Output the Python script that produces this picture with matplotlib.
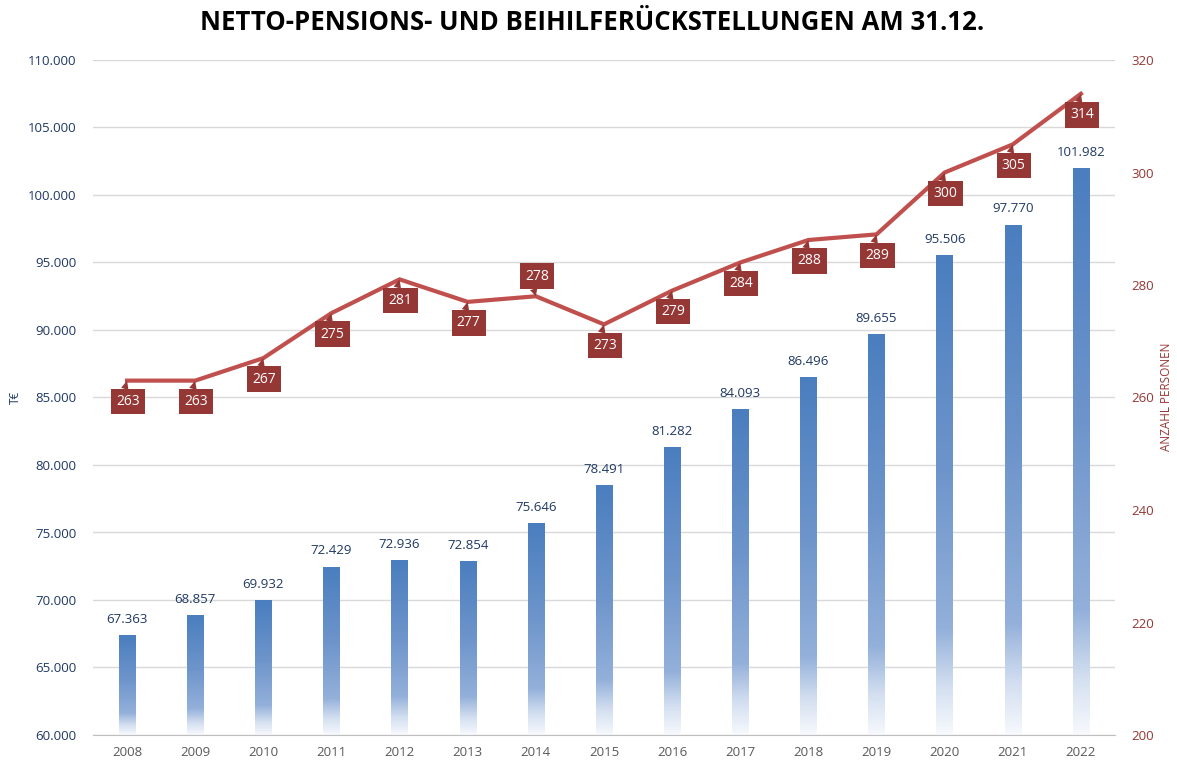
import matplotlib
matplotlib.use("Agg")
import matplotlib.pyplot as plt
import numpy as np
from matplotlib.colors import LinearSegmentedColormap

years = ["2008", "2009", "2010", "2011", "2012", "2013", "2014", "2015",
         "2016", "2017", "2018", "2019", "2020", "2021", "2022"]
provisions = [67363, 68857, 69932, 72429, 72936, 72854, 75646, 78491,
              81282, 84093, 86496, 89655, 95506, 97770, 101982]
persons = [263, 263, 267, 275, 281, 277, 278, 273, 279, 284, 288, 289, 300, 305, 314]
left_ticks = [60000, 65000, 70000, 75000, 80000, 85000, 90000, 95000, 100000, 105000, 110000]
right_ticks = [200, 220, 240, 260, 280, 300, 320]
labels_above = {"2014"}

NAVY = "#1F3864"
RED_LINE = "#C0504D"
RED_BOX = "#953735"
FONT = ["Open Sans", "DejaVu Sans"]
plt.rcParams["font.family"] = FONT

def fmt(v):
    return f"{v:,}".replace(",", ".")

fig = plt.figure(figsize=(11.77, 7.63), dpi=100)
ax = fig.add_axes([93/1177, 1-735/763, (1115-93)/1177, (735-60)/763])
ax2 = ax.twinx()

ax.set_xlim(-0.5, len(years)-0.5)
ax.set_ylim(60000, 110000)
ax2.set_ylim(200, 320)

cmap = LinearSegmentedColormap.from_list(
    "bar", [(0.0, "#F7F9FD"), (0.10, "#D3DFF0"), (0.22, "#93B0DA"),
            (0.55, "#6E95CB"), (1.0, "#4A7EBF")])
grad = np.linspace(0, 1, 256).reshape(-1, 1)
bw = 0.24
x = np.arange(len(years))
for xi, v in zip(x, provisions):
    ax.imshow(grad, extent=[xi-bw/2, xi+bw/2, 60000, v], origin="lower",
              aspect="auto", cmap=cmap, zorder=2, interpolation="bilinear")
    ax.annotate(fmt(v), (xi, v), xytext=(0, 7), textcoords="offset points",
                ha="center", va="bottom", fontsize=9.5, color=NAVY, zorder=5)

ax.set_yticks(left_ticks)
ax.set_yticklabels([fmt(t) for t in left_ticks])
ax.grid(axis="y", color="#D9D9D9", linewidth=1, zorder=0)
ax.set_axisbelow(True)
for s in ["top", "right", "left"]:
    ax.spines[s].set_visible(False)
ax.spines["bottom"].set_color("#BFBFBF")
for s in ax2.spines.values():
    s.set_visible(False)
ax.tick_params(axis="y", length=0, labelsize=9.5, labelcolor=NAVY, pad=12)
ax.set_xticks(x)
ax.set_xticklabels(years)
ax.tick_params(axis="x", length=0, labelsize=9.5, labelcolor="#595959", pad=8)
ax2.set_yticks(right_ticks)
ax2.tick_params(axis="y", length=0, labelsize=9.5, labelcolor=RED_BOX, pad=12)

ax2.plot(x, persons, color=RED_LINE, linewidth=3, solid_joinstyle="miter", zorder=3)
for xi, p, yr in zip(x, persons, years):
    above = yr in labels_above
    dy = 20 if above else -21
    ax2.annotate(str(p), (xi, p), xytext=(1, dy), textcoords="offset pixels",
                 ha="center", va="center", fontsize=10, color="white",
                 bbox=dict(boxstyle="square,pad=0.38", fc=RED_BOX, ec="none"),
                 arrowprops=dict(arrowstyle="wedge,tail_width=0.55,shrink_factor=0.5",
                                 fc=RED_BOX, ec="none", shrinkA=0, shrinkB=0,
                                 relpos=(0.3, 0.0 if above else 1.0)),
                 zorder=6)

fig.text(15/1177, 1-397/763, "T€", rotation=90, ha="center", va="center",
         fontsize=8.5, color=NAVY)
fig.text(1166/1177, 1-397/763, "ANZAHL PERSONEN", rotation=90, ha="center",
         va="center", fontsize=8.5, color=RED_BOX)
fig.text(592/1177, 1-23/763, "NETTO-PENSIONS- UND BEIHILFERÜCKSTELLUNGEN AM 31.12.",
         ha="center", va="center", fontsize=18.5, fontweight="bold", color="black")

fig.savefig("out.png", dpi=100)
